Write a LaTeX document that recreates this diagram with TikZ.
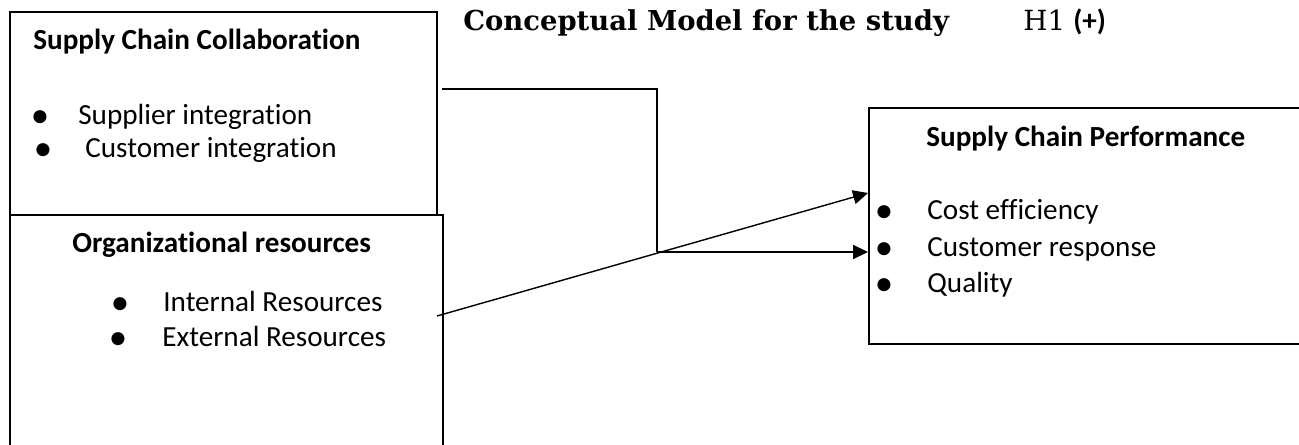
\documentclass[tikz,border=0pt]{standalone}
\usepackage{fontspec}
\setmainfont{Carlito}[Ligatures=NoCommon]
\newfontfamily\titlefont{DejaVu Serif}
\usetikzlibrary{arrows.meta, positioning}
\definecolor{lcol}{HTML}{000000}

\begin{document}
\begin{tikzpicture}[>={Triangle[length=0.3cm, width=0.28cm]},
  frame/.style={draw=lcol, line width=1.1pt, inner sep=0pt},
  link/.style={draw=lcol, line width=1pt},
  txt/.style={font=\fontsize{16.6}{19}\selectfont, inner sep=0pt, anchor=base west},
  head/.style={txt, font=\fontsize{16.6}{19}\selectfont\bfseries},
  dot/.style={font=\fontsize{21}{24}\selectfont, inner sep=0pt, anchor=base, yshift=-0.05cm}]
\useasboundingbox (0,0) rectangle (25.98,-8.9);
\clip (0,0) rectangle (25.98,-8.9);
% boxes
\node[frame, minimum width=8.54cm, minimum height=4.06cm] (collab) at (4.47,-2.27) {};
\node[frame, minimum width=8.66cm, minimum height=4.90cm] (resrc) at (4.53,-6.75) {};
\node[frame, minimum width=8.92cm, minimum height=4.72cm] (perf) at (21.84,-4.52) {};
% title
\node[txt, font=\titlefont\fontsize{15.6}{18}\selectfont\bfseries] (ttl) at (9.26,-0.62) {Conceptual Model for the study};
\node[txt, font=\titlefont\fontsize{15.8}{18}\selectfont] (hyp) at (20.46,-0.62) {H1};
\node[head] (sign) at (21.46,-0.62) {(+)};
% supply chain collaboration
\node[head] (collabT) at (0.66,-1.0) {Supply Chain Collaboration};
\node[dot] (b11) at (0.80,-2.50) {\textbullet};
\node[txt] (supp) at (1.56,-2.50) {Supplier integration};
\node[dot] (b12) at (0.86,-3.16) {\textbullet};
\node[txt] (cust) at (1.70,-3.16) {Customer integration};
% organizational resources
\node[head] (resrcT) at (1.44,-5.06) {Organizational resources};
\node[dot] (b21) at (2.40,-6.24) {\textbullet};
\node[txt] (intR) at (3.26,-6.24) {Internal Resources};
\node[dot] (b22) at (2.36,-6.94) {\textbullet};
\node[txt] (extR) at (3.24,-6.94) {External Resources};
% supply chain performance
\node[head] (perfT) at (18.52,-2.94) {Supply Chain Performance};
\node[dot] (b31) at (17.68,-4.40) {\textbullet};
\node[txt] (cost) at (18.54,-4.40) {Cost efficiency};
\node[dot] (b32) at (17.68,-5.14) {\textbullet};
\node[txt] (resp) at (18.54,-5.14) {Customer response};
\node[dot] (b33) at (17.68,-5.86) {\textbullet};
\node[txt] (qual) at (18.54,-5.86) {Quality};
% connectors
\coordinate (c1) at (8.84,-1.78);
\coordinate (jn) at (13.14,-5.04);
\coordinate (c2) at (8.74,-6.32);
\coordinate (h2) at (0,-3.86);
\draw[link] (c1) -| (jn);
\draw[link, ->] (jn) -- (perf.west |- jn);
\draw[link, line width=0.8pt, ->] (c2) -- (perf.west |- h2);
\end{tikzpicture}
\end{document}
